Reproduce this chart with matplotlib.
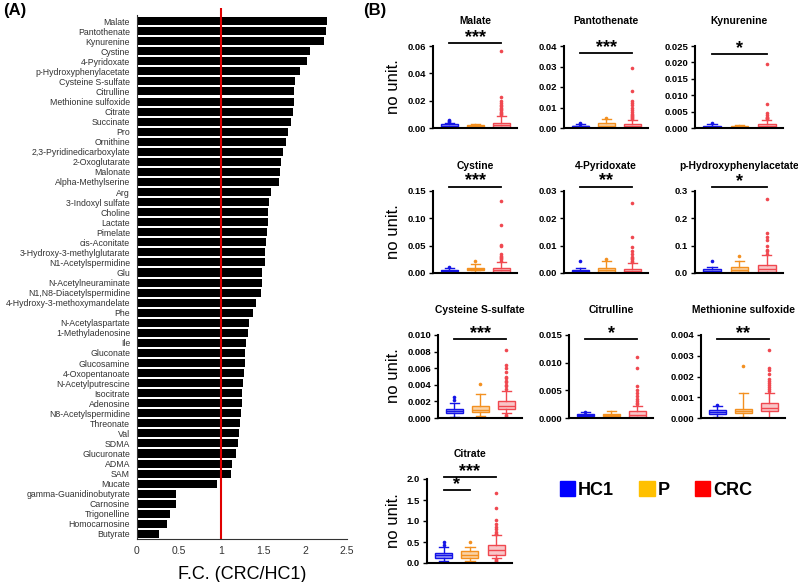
import matplotlib.pyplot as plt
from matplotlib.patches import Patch

plt.rcParams['font.family'] = ['Liberation Sans', 'DejaVu Sans']

# ---- Panel A: fold change CRC/HC1 ----
metabolites = [
    "Malate", "Pantothenate", "Kynurenine", "Cystine", "4-Pyridoxate",
    "p-Hydroxyphenylacetate", "Cysteine S-sulfate", "Citrulline",
    "Methionine sulfoxide", "Citrate", "Succinate", "Pro", "Ornithine",
    "2,3-Pyridinedicarboxylate", "2-Oxoglutarate", "Malonate",
    "Alpha-Methylserine", "Arg", "3-Indoxyl sulfate", "Choline", "Lactate",
    "Pimelate", "cis-Aconitate", "3-Hydroxy-3-methylglutarate",
    "N1-Acetylspermidine", "Glu", "N-Acetylneuraminate",
    "N1,N8-Diacetylspermidine", "4-Hydroxy-3-methoxymandelate", "Phe",
    "N-Acetylaspartate", "1-Methyladenosine", "Ile", "Gluconate",
    "Glucosamine", "4-Oxopentanoate", "N-Acetylputrescine", "Isocitrate",
    "Adenosine", "N8-Acetylspermidine", "Threonate", "Val", "SDMA",
    "Glucuronate", "ADMA", "SAM", "Mucate", "gamma-Guanidinobutyrate",
    "Carnosine", "Trigonelline", "Homocarnosine", "Butyrate",
]
fold_change = [
    2.266, 2.25, 2.222, 2.056, 2.024, 1.937, 1.885, 1.873, 1.873, 1.861,
    1.833, 1.798, 1.77, 1.738, 1.718, 1.702, 1.69, 1.599, 1.575, 1.563,
    1.56, 1.544, 1.532, 1.524, 1.524, 1.488, 1.484, 1.476, 1.413, 1.381,
    1.329, 1.317, 1.302, 1.29, 1.286, 1.27, 1.266, 1.254, 1.25, 1.234,
    1.226, 1.214, 1.206, 1.183, 1.135, 1.115, 0.948, 0.464, 0.46, 0.389,
    0.353, 0.258,
]
fc_ticks = [0, 0.5, 1, 1.5, 2, 2.5]
fc_ticklabels = ["0", "0.5", "1", "1.5", "2", "2.5"]

# ---- Panel B: box plots (whislo, q1, median, q3, whishi) ----
panels = ["Malate", "Pantothenate", "Kynurenine", "Cystine", "4-Pyridoxate",
          "p-Hydroxyphenylacetate", "Cysteine S-sulfate", "Citrulline",
          "Methionine sulfoxide", "Citrate"]
y_max = [0.06, 0.04, 0.025, 0.15, 0.03, 0.3, 0.010, 0.015, 0.004, 2.0]
y_step = [0.02, 0.01, 0.005, 0.05, 0.01, 0.1, 0.002, 0.005, 0.001, 0.5]
y_decimals = [2, 2, 3, 2, 2, 1, 3, 3, 3, 1]

hc1_box = [
    [0.0, 0.0005, 0.0015, 0.003, 0.004],
    [0.0, 0.0003, 0.0008, 0.0012, 0.0018],
    [0.0, 0.0002, 0.0004, 0.0006, 0.0012],
    [0.001, 0.003, 0.0045, 0.006, 0.009],
    [0.0, 0.0003, 0.0006, 0.001, 0.0018],
    [0.0, 0.002, 0.008, 0.015, 0.022],
    [0.0001, 0.0006, 0.0009, 0.0011, 0.0018],
    [0.0002, 0.0004, 0.0005, 0.0007, 0.001],
    [0.00005, 0.0002, 0.0003, 0.00037, 0.0006],
    [0.05, 0.12, 0.18, 0.24, 0.38],
]
p_box = [
    [0.0005, 0.001, 0.0018, 0.0025, 0.003],
    [0.0, 0.0003, 0.001, 0.0025, 0.0045],
    [0.0001, 0.0002, 0.0003, 0.0005, 0.0008],
    [0.002, 0.005, 0.007, 0.010, 0.016],
    [0.0, 0.0005, 0.001, 0.0018, 0.0043],
    [0.0, 0.003, 0.01, 0.022, 0.045],
    [0.0002, 0.0007, 0.001, 0.0014, 0.0029],
    [0.0001, 0.0004, 0.0005, 0.0007, 0.0012],
    [0.00005, 0.00025, 0.00032, 0.00045, 0.0012],
    [0.05, 0.13, 0.2, 0.28, 0.38],
]
crc_box = [
    [0.0, 0.0005, 0.002, 0.004, 0.009],
    [0.0, 0.0002, 0.0008, 0.002, 0.004],
    [0.0, 0.0002, 0.0006, 0.0012, 0.0025],
    [0.0, 0.002, 0.005, 0.010, 0.020],
    [0.0, 0.0002, 0.0006, 0.0015, 0.0035],
    [0.0, 0.005, 0.015, 0.03, 0.065],
    [0.0006, 0.0011, 0.0015, 0.0021, 0.0033],
    [0.0, 0.0002, 0.0006, 0.0012, 0.0022],
    [0.0, 0.00035, 0.00048, 0.0007, 0.0012],
    [0.12, 0.18, 0.31, 0.44, 0.66],
]
hc1_fliers = [
    [0.0045, 0.005, 0.006], [0.002, 0.0022], [0.0015], [0.011], [0.0043],
    [0.043], [0.0022, 0.0025, 0.0], [0.0011], [0.00065, 0.0], [0.42, 0.5, 0.03],
]
p_fliers = [
    [], [0.005], [], [0.022], [0.0053], [0.062], [0.0041], [], [0.0025, 0.0], [0.49],
]
crc_fliers = [
    [0.0095, 0.010, 0.011, 0.012, 0.013, 0.014, 0.015, 0.016, 0.017, 0.018, 0.020, 0.023, 0.056],
    [0.0045, 0.005, 0.0055, 0.006, 0.0065, 0.007, 0.008, 0.009, 0.010, 0.011, 0.012, 0.013, 0.018, 0.0295],
    [0.0027, 0.003, 0.0032, 0.0035, 0.004, 0.0045, 0.0072, 0.0195],
    [0.022, 0.025, 0.027, 0.03, 0.032, 0.035, 0.05, 0.052, 0.088, 0.132],
    [0.004, 0.0045, 0.005, 0.0055, 0.006, 0.007, 0.008, 0.0095, 0.013, 0.0255],
    [0.07, 0.08, 0.085, 0.1, 0.12, 0.13, 0.145, 0.27],
    [0.0035, 0.0038, 0.004, 0.0043, 0.0045, 0.0048, 0.005, 0.0055, 0.006, 0.0064, 0.0082, 0.0004, 0.0002, 0.0],
    [0.0025, 0.0028, 0.003, 0.0035, 0.004, 0.0045, 0.005, 0.0057, 0.009, 0.011],
    [0.0013, 0.0014, 0.0015, 0.0016, 0.0017, 0.0018, 0.0019, 0.0021, 0.0023, 0.0024, 0.0033],
    [0.68, 0.7, 0.75, 0.8, 0.85, 0.92, 1.03, 1.3, 1.67, 0.1, 0.08, 0.05, 0.02],
]
# significance: (group from, group to, height, label)
signif = [
    [(1, 3, 0.062, "***")], [(1, 3, 0.0366, "***")], [(1, 3, 0.0226, "*")],
    [(1, 3, 0.158, "***")], [(1, 3, 0.0316, "**")], [(1, 3, 0.315, "*")],
    [(1, 3, 0.0095, "***")], [(1, 3, 0.0143, "*")], [(1, 3, 0.0038, "**")],
    [(1, 3, 2.05, "***"), (1, 2, 1.74, "*")],
]
groups = ["HC1", "P", "CRC"]
legend_colors = ["#0000FF", "#FFC000", "#FF0000"]
edge_colors = ["#1414E6", "#F39020", "#F04850"]
fill_colors = ["#9A9AF8", "#FAD2A6", "#F8C6C8"]

W, H = 798, 582


def px(left, top, w, h):
    return [left / W, 1 - (top + h) / H, w / W, h / H]


fig = plt.figure(figsize=(W / 100, H / 100), dpi=100)

# Panel A
axA = fig.add_axes(px(137, 8, 210, 531))
axA.barh(range(len(metabolites)), fold_change, height=0.8, color="black")
axA.axvline(1, color="#E00000", lw=1.5)
axA.set_ylim(len(metabolites) - 0.5, -1.3)
axA.set_xlim(0, 2.5)
axA.set_yticks(range(len(metabolites)))
axA.set_yticklabels(metabolites, fontsize=6.3, color="#333333")
axA.set_xticks(fc_ticks)
axA.set_xticklabels(fc_ticklabels, fontsize=7.5, color="#333333")
axA.tick_params(length=0, pad=5)
axA.spines[["top", "right"]].set_visible(False)
axA.spines["left"].set_bounds(len(metabolites) - 0.5, -0.6)
axA.spines["left"].set_color("#333333")
axA.spines["bottom"].set_color("#333333")
axA.set_xlabel("F.C. (CRC/HC1)", fontsize=13, labelpad=7)

# Panel B layout (left, top, width, height) in pixels
boxes_px = [
    (433, 46, 84, 82), (564, 46, 84, 82), (695, 46, 88, 82),
    (433, 191, 84, 82), (564, 191, 84, 82), (695, 191, 88, 82),
    (438, 335, 84, 83), (569, 335, 84, 83), (701, 335, 84, 83),
    (427, 479, 85, 84),
]
for i, name in enumerate(panels):
    ax = fig.add_axes(px(*boxes_px[i]))
    stats_all = [hc1_box[i], p_box[i], crc_box[i]]
    fliers_all = [hc1_fliers[i], p_fliers[i], crc_fliers[i]]
    for g in range(3):
        lo, q1, med, q3, hi = stats_all[g]
        st = dict(whislo=lo, q1=q1, med=med, q3=q3, whishi=hi, fliers=fliers_all[g])
        ec = edge_colors[g]
        ax.bxp([st], positions=[g + 1], widths=0.65, capwidths=0.35,
               patch_artist=True, showfliers=True,
               boxprops=dict(facecolor=fill_colors[g], edgecolor=ec, lw=1.0),
               medianprops=dict(color=ec, lw=1.0),
               whiskerprops=dict(color=ec, lw=1.0),
               capprops=dict(color=ec, lw=1.0),
               flierprops=dict(marker="o", markersize=2.6, markerfacecolor=ec,
                               markeredgecolor="none"))
    ax.set_xlim(0.37, 3.6)
    ax.set_ylim(0, y_max[i])
    n = int(round(y_max[i] / y_step[i]))
    ticks = [k * y_step[i] for k in range(n + 1)]
    ax.set_yticks(ticks)
    ax.set_yticklabels([f"{t:.{y_decimals[i]}f}" for t in ticks],
                       fontsize=6.8, fontweight="bold")
    ax.set_xticks([])
    ax.tick_params(axis="y", length=3, width=1, pad=2)
    ax.spines[["top", "right"]].set_visible(False)
    ax.spines[["left", "bottom"]].set_linewidth(1.5)
    ax.set_title(name, fontsize=7.4, fontweight="bold", pad=16)
    for x1, x2, y, lab in signif[i]:
        ax.plot([x1, x2], [y, y], color="black", lw=1.3, clip_on=False)
        ax.annotate(lab, ((x1 + x2) / 2, y), xytext=(0, -2),
                    textcoords="offset points", ha="center", va="bottom",
                    fontsize=13, fontweight="bold", annotation_clip=False)

# y labels for first column
for yc in [87, 232, 376, 521]:
    fig.text(394 / W, 1 - yc / H, "no unit.", rotation=90, fontsize=12,
             ha="center", va="center")

fig.text(3 / W, 1 - 11 / H, "(A)", fontsize=12, fontweight="bold", va="center")
fig.text(363 / W, 1 - 11 / H, "(B)", fontsize=12, fontweight="bold", va="center")

handles = [Patch(color=c) for c in legend_colors]
fig.legend(handles, groups, loc="center", bbox_to_anchor=(656 / W, 1 - 490 / H),
           ncol=3, frameon=False, handlelength=0.85, handleheight=0.85,
           handletextpad=0.15, columnspacing=1.4,
           prop=dict(size=13, weight="bold"))

fig.savefig("out.png", dpi=100)
